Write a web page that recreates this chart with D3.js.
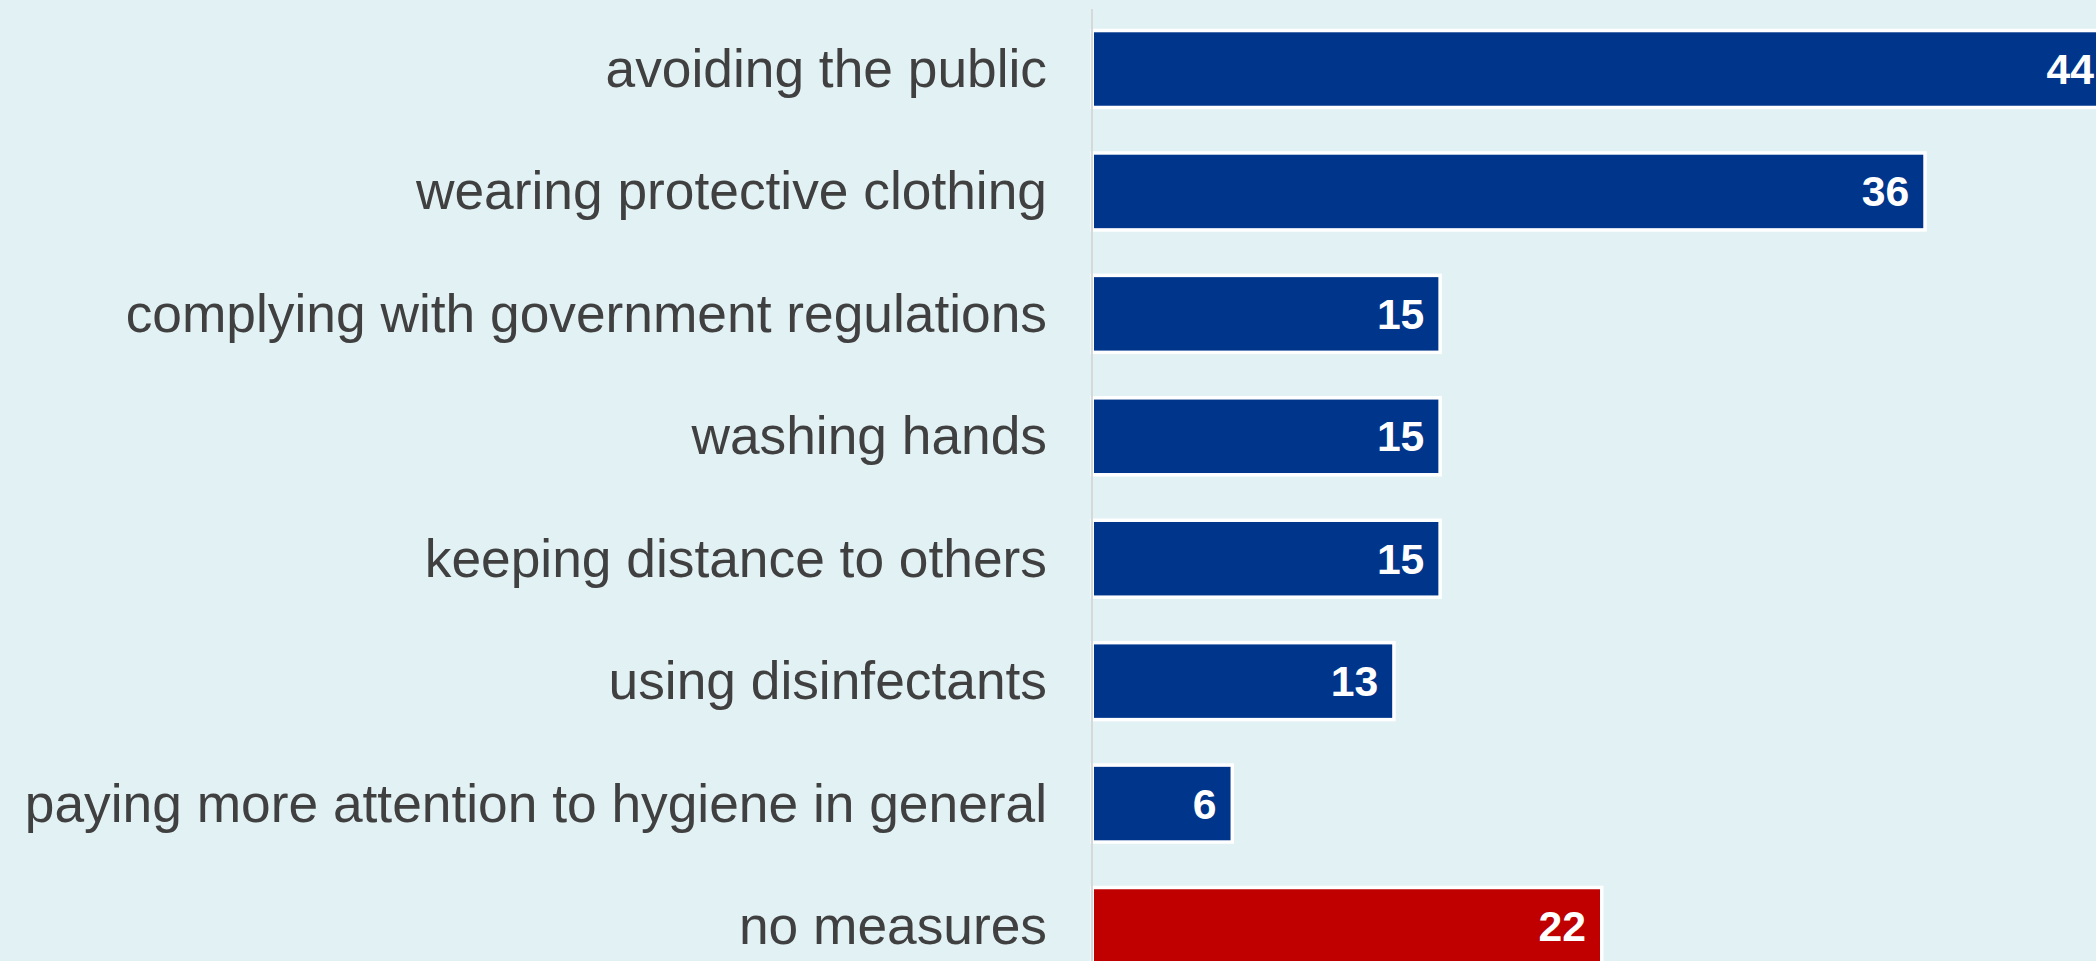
<!DOCTYPE html>
<html>
<head>
<meta charset="utf-8">
<script src="https://cdn.jsdelivr.net/npm/d3@7/dist/d3.min.js"></script>
<style>
  html, body { margin: 0; padding: 0; background: #e2f1f4; overflow: hidden; }
  svg { display: block; }
</style>
</head>
<body>
<svg id="chart" width="2096" height="961"></svg>
<script>
const categories = [
  "avoiding the public",
  "wearing protective clothing",
  "complying with government regulations",
  "washing hands",
  "keeping distance to others",
  "using disinfectants",
  "paying more attention to hygiene in general",
  "no measures"
];
const values = [44, 36, 15, 15, 15, 13, 6, 22];
const highlighted = ["no measures"];

const W = 2096, H = 961;
const svg = d3.select("#chart");

svg.append("rect").attr("width", W).attr("height", H).attr("fill", "#e2f1f4");

const x = d3.scaleLinear().domain([0, 44]).range([1092, 2108]);
const y = d3.scaleBand().domain(categories).range([7.8, 987.2]).paddingInner(0.4).paddingOuter(0.2);

const data = categories.map((c, i) => ({ c, v: values[i] }));

// bars
svg.append("g").selectAll("rect").data(data).join("rect")
  .attr("x", x(0) + 2)
  .attr("y", d => y(d.c))
  .attr("width", d => x(d.v) - x(0) - 2)
  .attr("height", y.bandwidth())
  .attr("fill", d => highlighted.includes(d.c) ? "#c00000" : "#00358c")
  .attr("stroke", "#ffffff")
  .attr("stroke-width", 7)
  .style("paint-order", "stroke");

// axis line
svg.append("line")
  .attr("x1", x(0)).attr("x2", x(0))
  .attr("y1", 9).attr("y2", H)
  .attr("stroke", "#d6d9da").attr("stroke-width", 2);

// category labels
svg.append("g").selectAll("text").data(data).join("text")
  .attr("x", 1047)
  .attr("y", d => y(d.c) + y.bandwidth() / 2 + 18)
  .attr("text-anchor", "end")
  .attr("font-family", "Liberation Sans, Arial, sans-serif")
  .attr("font-size", "53.3px")
  .attr("fill", "#404040")
  .text(d => d.c);

// value labels
svg.append("g").selectAll("text").data(data).join("text")
  .attr("x", d => x(d.v) - 14)
  .attr("y", d => y(d.c) + y.bandwidth() / 2 + 15)
  .attr("text-anchor", "end")
  .attr("font-family", "Liberation Sans, Arial, sans-serif")
  .attr("font-weight", "bold")
  .attr("font-size", "42.7px")
  .attr("fill", "#ffffff")
  .text(d => d.v);
</script>
</body>
</html>
